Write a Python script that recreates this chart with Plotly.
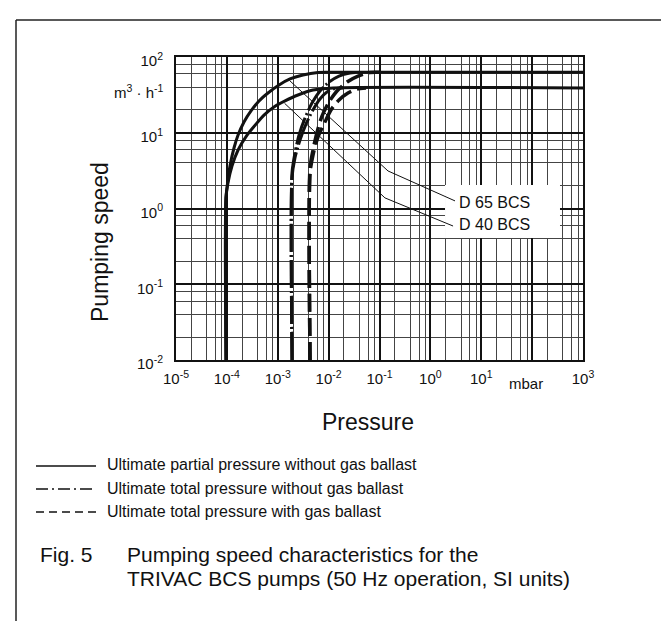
import plotly.graph_objects as go

# ---------------- data (pressure in mbar, pumping speed in m3/h) ----------------
# Ultimate partial pressure without gas ballast (solid)
p_solid_d65 = [9.6e-5, 9.6e-5, 1.05e-4, 1.15e-4, 1.38e-4, 1.66e-4, 2.17e-4, 2.98e-4,
               4.28e-4, 6.43e-4, 1.06e-3, 1.74e-3, 3.13e-3, 6.18e-3, 1e-2, 1e3]
s_solid_d65 = [0.01, 1.38, 2.38, 3.64, 6.29, 9.33, 13.9, 19.4,
               26.3, 33.5, 42.7, 51.3, 57.8, 62.4, 62.8, 62.8]
p_solid_d40 = [9.6e-5, 9.6e-5, 1.05e-4, 1.26e-4, 1.66e-4, 2.49e-4, 3.73e-4, 5.37e-4,
               8.43e-4, 1.39e-3, 2.50e-3, 4.93e-3, 1.22e-2, 1e3]
s_solid_d40 = [0.01, 1.38, 2.17, 3.64, 5.92, 9.33, 13.0, 17.1,
               21.9, 26.3, 31.5, 36.6, 39.0, 39.0]

# Ultimate total pressure without gas ballast (dash-dot)
p_dashdot_d65 = [1.905e-3, 1.905e-3, 2.18e-3, 2.62e-3, 3.44e-3, 4.71e-3, 6.76e-3,
                 1.02e-2, 1.60e-2, 2.63e-2, 4.14e-2]
s_dashdot_d65 = [0.01, 2.94, 5.41, 9.33, 15.7, 24.7, 35.6, 46.8, 56.1, 61.5, 62.8]
p_dashdot_d40 = [1.905e-3, 1.905e-3, 2.18e-3, 2.74e-3, 3.59e-3, 4.93e-3, 6.76e-3,
                 9.29e-3, 1.33e-2, 1.92e-2]
s_dashdot_d40 = [0.01, 2.53, 4.64, 8.02, 13.0, 20.0, 27.9, 34.5, 38.4, 39.0]

# Ultimate total pressure with gas ballast (dashed)
p_dashed_d65 = [4.31e-3, 4.31e-3, 4.93e-3, 5.92e-3, 7.41e-3, 1.02e-2, 1.46e-2,
                2.30e-2, 3.78e-2, 6.50e-2, 1.02e-1]
s_dashed_d65 = [0.01, 3.43, 5.92, 10.2, 16.6, 25.5, 35.6, 46.8, 56.1, 62.4, 62.8]
p_dashed_d40 = [4.31e-3, 4.31e-3, 4.93e-3, 6.18e-3, 8.11e-3, 1.11e-2, 1.60e-2,
                2.40e-2, 3.61e-2, 5.43e-2]
s_dashed_d40 = [0.01, 2.94, 5.08, 8.79, 13.0, 20.0, 27.1, 33.5, 37.8, 39.0]

# Label leader lines
p_leader_d65 = [1.70e-3, 0.147, 3.05]
s_leader_d65 = [49.0, 3.13, 1.26]
p_leader_d40 = [1.36e-3, 0.128, 2.79]
s_leader_d40 = [24.5, 1.38, 0.587]

# White label box behind the series names (pressure range, speed range)
label_box_p = [1.94, 353.0]
label_box_s = [0.408, 2.04]

series_labels = ["D 65 BCS", "D 40 BCS"]
legend_labels = ["Ultimate partial pressure without gas ballast",
                 "Ultimate total pressure without gas ballast",
                 "Ultimate total pressure with gas ballast"]

x_tickvals = [1e-5, 1e-4, 1e-3, 1e-2, 1e-1, 1e0, 1e1, 1e2, 1e3]
x_ticktext = ["10<sup>-5</sup>", "10<sup>-4</sup>", "10<sup>-3</sup>", "10<sup>-2</sup>",
              "10<sup>-1</sup>", "10<sup>0</sup>", "10<sup>1</sup>", "", "10<sup>3</sup>"]
y_tickvals = [1e-2, 1e-1, 1e0, 1e1, 1e2]
y_ticktext = ["10<sup>-2</sup>", "10<sup>-1</sup>", "10<sup>0</sup>", "10<sup>1</sup>", "10<sup>2</sup>"]

# ---------------- layout geometry ----------------
W, H = 669, 621
L, R, T, B = 168, 575, 49, 352   # plot area in pixels


def px(x):
    return (x - L) / (R - L)


def py(y):
    return (B - y) / (B - T)


FONT = "Liberation Sans, Arial, Helvetica, sans-serif"

fig = go.Figure()


def curve(p, s, dash, width):
    fig.add_trace(go.Scatter(x=p, y=s, mode="lines", showlegend=False, hoverinfo="skip",
                             line=dict(color="#111", width=width, dash=dash,
                                       shape="spline", smoothing=0.7)))


curve(p_solid_d65, s_solid_d65, "solid", 3)
curve(p_solid_d40, s_solid_d40, "solid", 3)
curve(p_dashdot_d65, s_dashdot_d65, "28px,3px,2px,3px", 3)
curve(p_dashdot_d40, s_dashdot_d40, "28px,3px,2px,3px", 3)
curve(p_dashed_d65, s_dashed_d65, "18px,6px", 3.5)
curve(p_dashed_d40, s_dashed_d40, "18px,6px", 3.5)

for p, s in [(p_leader_d65, s_leader_d65), (p_leader_d40, s_leader_d40)]:
    fig.add_trace(go.Scatter(x=p, y=s, mode="lines", showlegend=False, hoverinfo="skip",
                             line=dict(color="#111", width=1)))

minor_vals_x = [m * 10.0 ** e for e in range(-5, 3) for m in (2, 4, 6, 8)]
minor_vals_y = [m * 10.0 ** e for e in range(-2, 2) for m in (2, 4, 6, 8)]

axis_common = dict(type="log", showline=True, mirror=True, linecolor="#111", linewidth=2,
                   showgrid=True, gridcolor="#111", gridwidth=2, ticks="", zeroline=False,
                   tickmode="array", tickfont=dict(family=FONT, size=15, color="#111"))

fig.update_xaxes(range=[-5, 3], tickvals=x_tickvals, ticktext=x_ticktext,
                 ticklabelstandoff=4,
                 minor=dict(tickmode="array", tickvals=minor_vals_x, showgrid=True,
                            gridcolor="#444", gridwidth=1, ticks=""),
                 **axis_common)
fig.update_yaxes(range=[-2, 2], tickvals=y_tickvals, ticktext=y_ticktext,
                 ticklabelstandoff=8, ticklabelshift=4,
                 minor=dict(tickmode="array", tickvals=minor_vals_y, showgrid=True,
                            gridcolor="#444", gridwidth=1, ticks=""),
                 **axis_common)

shapes = []
# white label box (between grid and traces)
shapes.append(dict(type="rect", xref="x", yref="y",
                   x0=label_box_p[0], x1=label_box_p[1],
                   y0=label_box_s[0], y1=label_box_s[1],
                   fillcolor="white", line=dict(width=0), layer="between"))
# page frame
shapes.append(dict(type="line", xref="paper", yref="paper", x0=px(8), x1=px(8),
                   y0=py(12), y1=py(625), line=dict(color="#222", width=1.5)))
shapes.append(dict(type="line", xref="paper", yref="paper", x0=px(8), x1=px(672),
                   y0=py(12), y1=py(12), line=dict(color="#222", width=1.5)))
# legend samples
legend_rows = [458, 481, 504]
legend_dashes = ["solid", "12px,4px,2px,4px", "8px,5px"]
for yy, dsh in zip(legend_rows, legend_dashes):
    shapes.append(dict(type="line", xref="paper", yref="paper", x0=px(28), x1=px(88),
                       y0=py(yy), y1=py(yy), line=dict(color="#111", width=1.3, dash=dsh)))

annotations = []


def note(text, x, y, size, xanchor="left", family=FONT, textangle=0):
    annotations.append(dict(text=text, x=px(x), y=py(y), xref="paper", yref="paper",
                            xanchor=xanchor, yanchor="middle", showarrow=False,
                            textangle=textangle,
                            font=dict(family=family, size=size, color="#111")))


note("m<sup>3</sup> · h<sup>-1</sup>", 158, 84, 15, xanchor="right")
note("mbar", 518, 375, 15, xanchor="center")
note("Pumping speed", 92, 234, 23, xanchor="center", textangle=-90)
note("Pressure", 360, 414, 23, xanchor="center")
note(series_labels[0], 449, 194, 16)
note(series_labels[1], 449, 216, 16)
for yy, lab in zip([456, 480, 504], legend_labels):
    note(lab, 97, yy, 16)
note("Fig. 5", 30, 546, 21)
note("Pumping speed characteristics for the", 117, 546, 21)
note("TRIVAC BCS pumps (50 Hz operation, SI units)", 117, 570, 21)

fig.update_layout(width=W, height=H, margin=dict(l=L, r=W - R, t=T, b=H - B, pad=0),
                  paper_bgcolor="white", plot_bgcolor="white", showlegend=False,
                  shapes=shapes, annotations=annotations)

fig.write_html("out.html", config={"displayModeBar": False})
